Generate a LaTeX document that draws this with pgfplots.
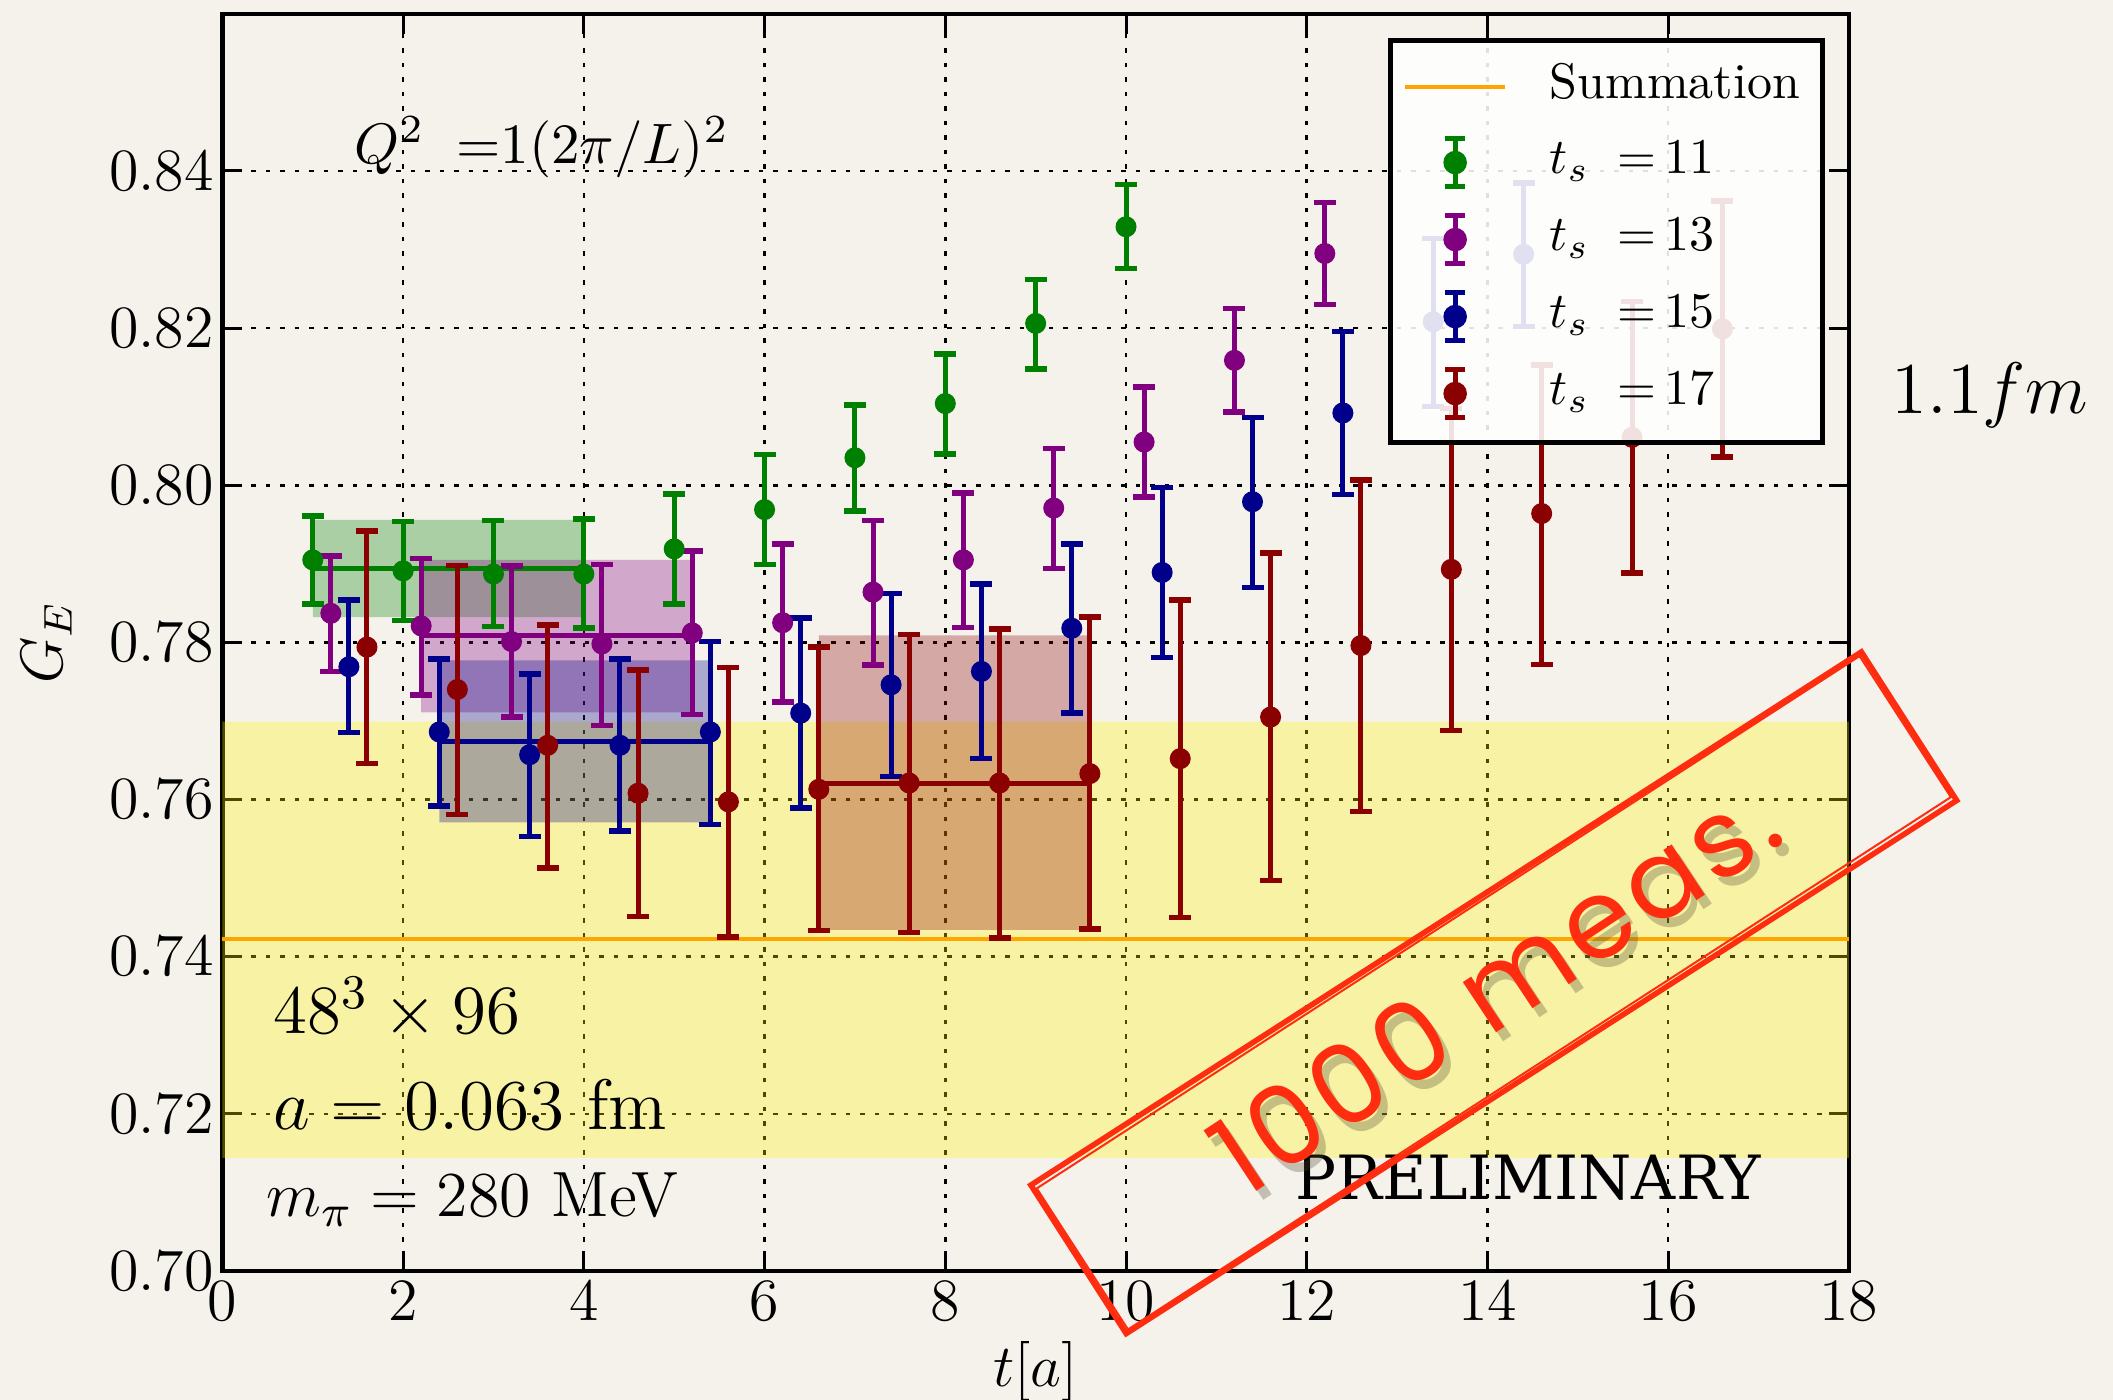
\RequirePackage{fix-cm}
\documentclass[border=0pt]{standalone}
\usepackage{pgfplots}
\pgfplotsset{compat=1.18}
\usepackage{pgfplotstable}
\usepackage{fontspec}
\newfontfamily\stampfont{Poppins}[LetterSpace=5]
\newfontfamily\prelimfont{DejaVu Serif}

\definecolor{bgcol}{RGB}{245,242,236}
\definecolor{gcol}{RGB}{0,128,0}
\definecolor{pcol}{RGB}{128,0,128}
\definecolor{bcol}{RGB}{0,0,139}
\definecolor{rcol}{RGB}{139,0,0}
\definecolor{sumcol}{RGB}{255,165,0}
\definecolor{stampred}{RGB}{255,45,15}

% t_s = 11
\pgfplotstableread{
x y ep em
1.0 0.7905 0.0056 0.0056
2.0 0.7891 0.0063 0.0063
3.0 0.7887 0.0068 0.0067
4.0 0.7887 0.0070 0.0069
5.0 0.7919 0.0070 0.0070
6.0 0.7969 0.0070 0.0070
7.0 0.8035 0.0067 0.0068
8.0 0.8104 0.0063 0.0064
9.0 0.8206 0.0056 0.0058
10.0 0.8329 0.0054 0.0053
}\tsA
% t_s = 13
\pgfplotstableread{
x y ep em
1.2 0.7837 0.0073 0.0074
2.2 0.7821 0.0086 0.0088
3.2 0.7801 0.0096 0.0096
4.2 0.7798 0.0101 0.0104
5.2 0.7812 0.0104 0.0104
6.2 0.7825 0.0100 0.0101
7.2 0.7864 0.0091 0.0093
8.2 0.7905 0.0085 0.0086
9.2 0.7971 0.0076 0.0077
10.2 0.8055 0.0070 0.0070
11.2 0.8159 0.0066 0.0066
12.2 0.8295 0.0065 0.0065
}\tsB
% t_s = 15
\pgfplotstableread{
x y ep em
1.4 0.7769 0.0085 0.0084
2.4 0.7686 0.0093 0.0094
3.4 0.7657 0.0103 0.0104
4.4 0.7669 0.0110 0.0109
5.4 0.7686 0.0115 0.0118
6.4 0.7710 0.0121 0.0121
7.4 0.7746 0.0116 0.0117
8.4 0.7763 0.0111 0.0111
9.4 0.7818 0.0107 0.0108
10.4 0.7889 0.0108 0.0108
11.4 0.7979 0.0107 0.0109
12.4 0.8092 0.0104 0.0104
13.4 0.8208 0.0106 0.0108
14.4 0.8294 0.0091 0.0092
}\tsC
% t_s = 17
\pgfplotstableread{
x y ep em
1.6 0.7794 0.0148 0.0148
2.6 0.7740 0.0158 0.0159
3.6 0.7669 0.0153 0.0156
4.6 0.7608 0.0157 0.0157
5.6 0.7597 0.0171 0.0172
6.6 0.7613 0.0181 0.0180
7.6 0.7621 0.0189 0.0190
8.6 0.7621 0.0196 0.0197
9.6 0.7633 0.0199 0.0198
10.6 0.7652 0.0202 0.0202
11.6 0.7705 0.0209 0.0208
12.6 0.7796 0.0211 0.0211
13.6 0.7893 0.0205 0.0205
14.6 0.7964 0.0189 0.0192
15.6 0.8061 0.0173 0.0173
16.6 0.8199 0.0163 0.0163
}\tsD

\pgfplotsset{
  ebleg/.style={legend image code/.code={
    \draw[line width=1pt] (10pt,-4.8pt) -- (10pt,4.8pt);
    \draw[line width=1.1pt] (8pt,-4.8pt) -- (12pt,-4.8pt) (8pt,4.8pt) -- (12pt,4.8pt);
    \fill[fill opacity=1] (10pt,0pt) circle (1.9pt);
    \path (0pt,0pt) (20pt,0pt);
  }},
  ebstyle/.style={#1, only marks, mark=*, mark size=1.9pt,
    mark options={draw=#1, fill=#1}, ebleg,
    error bars/.cd, y dir=both, y explicit,
    error bar style={line width=1pt},
    error mark options={rotate=90, mark size=2.2pt, line width=1.1pt}},
}

\begin{document}
\begin{tikzpicture}
\fill[bgcol] (-44.48pt,-25.82pt) rectangle (378.12pt,254.18pt);
\begin{axis}[
  at={(0,0)}, anchor=south west,
  scale only axis, width=325.3pt, height=251.4pt,
  xmin=0, xmax=18, ymin=0.70, ymax=0.86,
  xtick={0,2,4,6,8,10,12,14,16,18},
  ytick={0.70,0.72,0.74,0.76,0.78,0.80,0.82,0.84},
  tick label style={font=\fontsize{12}{14}\selectfont},
  xticklabel style={yshift=1.3pt},
  yticklabel style={xshift=1.8pt, /pgf/number format/.cd, fixed, fixed zerofill, precision=2},
  grid=major,
  major grid style={black, line width=0.5pt, dash pattern=on 0.9pt off 2pt},
  axis line style={black, line width=0.9pt},
  tick style={black, line width=0.6pt}, major tick length=4pt,
  xlabel={$t[a]$}, ylabel={$G_E$},
  xlabel style={font=\fontsize{12}{14}\selectfont, at={(axis description cs:0.5,-0.0803)}, anchor=center},
  ylabel style={font=\fontsize{12}{14}\selectfont, at={(axis description cs:-0.108,0.5)}, anchor=center},
  clip=false,
  legend style={
    at={(1,1)}, anchor=north east, xshift=-4.84pt, yshift=-4.84pt,
    draw=black, line width=0.9pt, fill=white, fill opacity=0.88, text opacity=1, draw opacity=1,
    inner xsep=2.5pt, inner ysep=4.4pt, row sep=4.7pt,
    font=\fontsize{10}{12}\selectfont,
    nodes={inner xsep=2pt, inner ysep=0pt, text height=7.2pt, text depth=2.8pt, anchor=west},
    /tikz/every odd column/.append style={column sep=6.5pt},
  },
  legend cell align=left,
]
% summation band
\addplot[draw=none, fill=yellow, fill opacity=0.3, forget plot]
  coordinates {(0,0.7144) (18,0.7144) (18,0.7699) (0,0.7699) (0,0.7144)};
\addplot[sumcol, line width=0.8pt,
  legend image code/.code={\draw[line width=0.8pt] (0pt,0pt) -- (20pt,0pt);}]
  coordinates {(0,0.7422) (18,0.7422)};
\addlegendentry{Summation}
% plateau bands
\addplot[draw=none, fill=gcol, fill opacity=0.3, forget plot]
  coordinates {(1,0.7832) (4,0.7832) (4,0.7956) (1,0.7956) (1,0.7832)};
\addplot[draw=none, fill=pcol, fill opacity=0.3, forget plot]
  coordinates {(2.2,0.7711) (5.2,0.7711) (5.2,0.7905) (2.2,0.7905) (2.2,0.7711)};
\addplot[draw=none, fill=bcol, fill opacity=0.3, forget plot]
  coordinates {(2.4,0.7571) (5.4,0.7571) (5.4,0.7777) (2.4,0.7777) (2.4,0.7571)};
\addplot[draw=none, fill=rcol, fill opacity=0.3, forget plot]
  coordinates {(6.6,0.7434) (9.6,0.7434) (9.6,0.7809) (6.6,0.7809) (6.6,0.7434)};
\addplot[gcol, line width=1pt, forget plot] coordinates {(1,0.7894) (4,0.7894)};
\addplot[pcol, line width=1pt, forget plot] coordinates {(2.2,0.7809) (5.2,0.7809)};
\addplot[bcol, line width=1pt, forget plot] coordinates {(2.4,0.7674) (5.4,0.7674)};
\addplot[rcol, line width=1pt, forget plot] coordinates {(6.6,0.7621) (9.6,0.7621)};
% data
\addplot[ebstyle=gcol] table[x=x, y=y, y error plus=ep, y error minus=em] {\tsA};
\addlegendentry{$t_s\;\;{=}\,11$}
\addplot[ebstyle=pcol] table[x=x, y=y, y error plus=ep, y error minus=em] {\tsB};
\addlegendentry{$t_s\;\;{=}\,13$}
\addplot[ebstyle=bcol] table[x=x, y=y, y error plus=ep, y error minus=em] {\tsC};
\addlegendentry{$t_s\;\;{=}\,15$}
\addplot[ebstyle=rcol] table[x=x, y=y, y error plus=ep, y error minus=em] {\tsD};
\addlegendentry{$t_s\;\;{=}\,17$}
% annotations
\node[anchor=base west, font=\fontsize{11.4}{14}\selectfont, inner sep=0pt] at (axis cs:1.45,0.8410) {$Q^2\;\;{=}1(2\pi/L)^2$};
\node[anchor=base west, font=\fontsize{13.8}{16}\selectfont, inner sep=0pt] at (axis cs:0.557,0.7302) {$48^3\times 96$};
\node[anchor=base west, font=\fontsize{14.3}{17}\selectfont, inner sep=0pt] at (axis cs:0.557,0.7180) {$a=0.063$ fm};
\node[anchor=base west, font=\fontsize{12.8}{15}\selectfont, inner sep=0pt] at (axis cs:0.477,0.7069) {$m_\pi=280$ MeV};
\node[anchor=base, font=\fontsize{12.2}{14}\prelimfont, inner sep=0pt] at (axis cs:14.45,0.7091) {PRELIMINARY};
\node[anchor=center, font=\fontsize{14.6}{18}\selectfont, inner sep=0pt] at (axis cs:19.56,0.8115) {$1.1fm$};
% stamp
\node[xshift=1.4pt, yshift=-1.8pt, rotate=33.5, text=black!60!olive, opacity=0.3, font=\fontsize{22}{26}\stampfont, inner sep=0pt] at (axis cs:14.08,0.7362) {1000 meas.};
\node[rotate=33.5, text=stampred, font=\fontsize{22}{26}\stampfont, inner sep=0pt] at (axis cs:14.08,0.7362) {1000 meas.};
\node[draw=stampred, line width=1.1pt, rotate=32.7, minimum width=197.4pt, minimum height=35.3pt, inner sep=0pt] at (axis cs:14.07,0.7354) {};
\node[draw=stampred, line width=0.4pt, rotate=32.9, minimum width=196pt, minimum height=33.6pt, inner sep=0pt] at (axis cs:14.07,0.7354) {};
\end{axis}
\pgfresetboundingbox
\useasboundingbox (-44.48pt,-25.82pt) rectangle (378.12pt,254.18pt);
\end{tikzpicture}
\end{document}
